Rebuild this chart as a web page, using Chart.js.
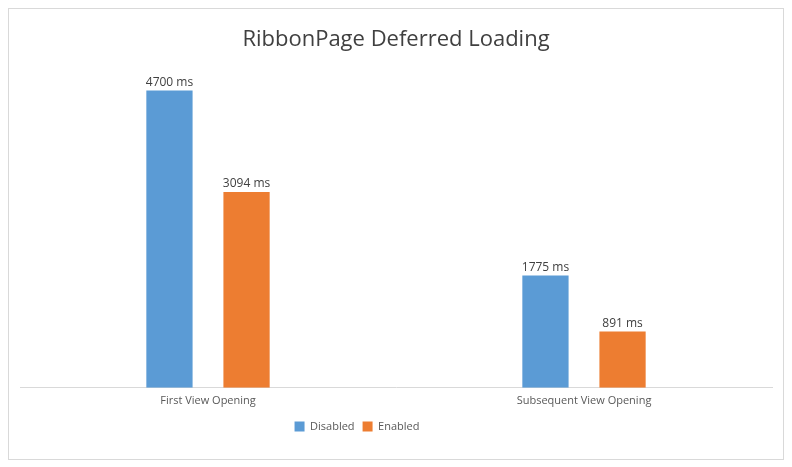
<!DOCTYPE html>
<html>
<head>
<meta charset="utf-8">
<script src="https://cdn.jsdelivr.net/npm/chart.js@4/dist/chart.umd.min.js"></script>
<style>
  html, body { margin: 0; padding: 0; background: #fff; }
  #wrap { position: absolute; left: 0; top: 0; width: 792px; height: 467px; }
</style>
</head>
<body>
<div id="wrap"><canvas id="barChart"></canvas></div>
<script>
// datos del grafico
const categorias = ['First View Opening', 'Subsequent View Opening'];
const deshabilitado = [4700, 1775];
const habilitado = [3094, 891];
const series = ['Disabled', 'Enabled'];

const fuente = "'Segoe UI', 'Open Sans', sans-serif";

// marco gris alrededor del grafico
const marco = {
    id: 'marco',
    beforeDraw(chart) {
        const c = chart.ctx;
        c.save();
        c.fillStyle = '#ffffff';
        c.fillRect(0, 0, chart.width, chart.height);
        c.strokeStyle = '#d9d9d9';
        c.lineWidth = 1;
        c.strokeRect(8.5, 8.5, 775, 451);
        c.restore();
    }
};

// la leyenda del original no esta centrada, se corre a la izquierda
const correrLeyenda = {
    id: 'correrLeyenda',
    afterLayout(chart) {
        chart.legend.left -= 39;
        chart.legend.right -= 39;
    }
};

// etiquetas "xxxx ms" encima de las barras
const etiquetas = {
    id: 'etiquetas',
    afterDatasetsDraw(chart) {
        const c = chart.ctx;
        c.save();
        c.font = '12px ' + fuente;
        c.fillStyle = '#404040';
        c.textAlign = 'center';
        c.textBaseline = 'bottom';
        chart.data.datasets.forEach(function(ds, i) {
            chart.getDatasetMeta(i).data.forEach(function(bar, j) {
                c.fillText(ds.data[j] + ' ms', bar.x, bar.y - 2);
            });
        });
        c.restore();
    }
};

document.addEventListener('DOMContentLoaded', function() {
    const ctx = document.getElementById('barChart').getContext('2d');

    new Chart(ctx, {
        type: 'bar',
        data: {
            labels: categorias,
            datasets: [{
                label: series[0],
                data: deshabilitado,
                backgroundColor: '#5B9BD5',
                categoryPercentage: 0.41,
                barPercentage: 0.6
            }, {
                label: series[1],
                data: habilitado,
                backgroundColor: '#ED7D31',
                categoryPercentage: 0.41,
                barPercentage: 0.6
            }]
        },
        options: {
            responsive: true,
            maintainAspectRatio: false,
            animation: false,
            layout: { padding: { left: 20, right: 20, top: 12, bottom: 25 } },
            scales: {
                x: {
                    grid: { display: false, drawTicks: false },
                    border: { display: true, color: '#d9d9d9', width: 1 },
                    ticks: { color: '#595959', font: { size: 11, family: fuente }, padding: 6 }
                },
                y: {
                    display: false,
                    min: 0,
                    max: 5000
                }
            },
            plugins: {
                title: {
                    display: true,
                    text: 'RibbonPage Deferred Loading',
                    color: '#404040',
                    font: { size: 22, weight: 'normal', family: fuente },
                    padding: { top: 15, bottom: 18 }
                },
                legend: {
                    position: 'bottom',
                    labels: {
                        color: '#595959',
                        font: { size: 11, family: fuente },
                        boxWidth: 10,
                        boxHeight: 10,
                        padding: 8
                    }
                },
                tooltip: { enabled: false }
            }
        },
        plugins: [marco, correrLeyenda, etiquetas]
    });
});
</script>
</body>
</html>
